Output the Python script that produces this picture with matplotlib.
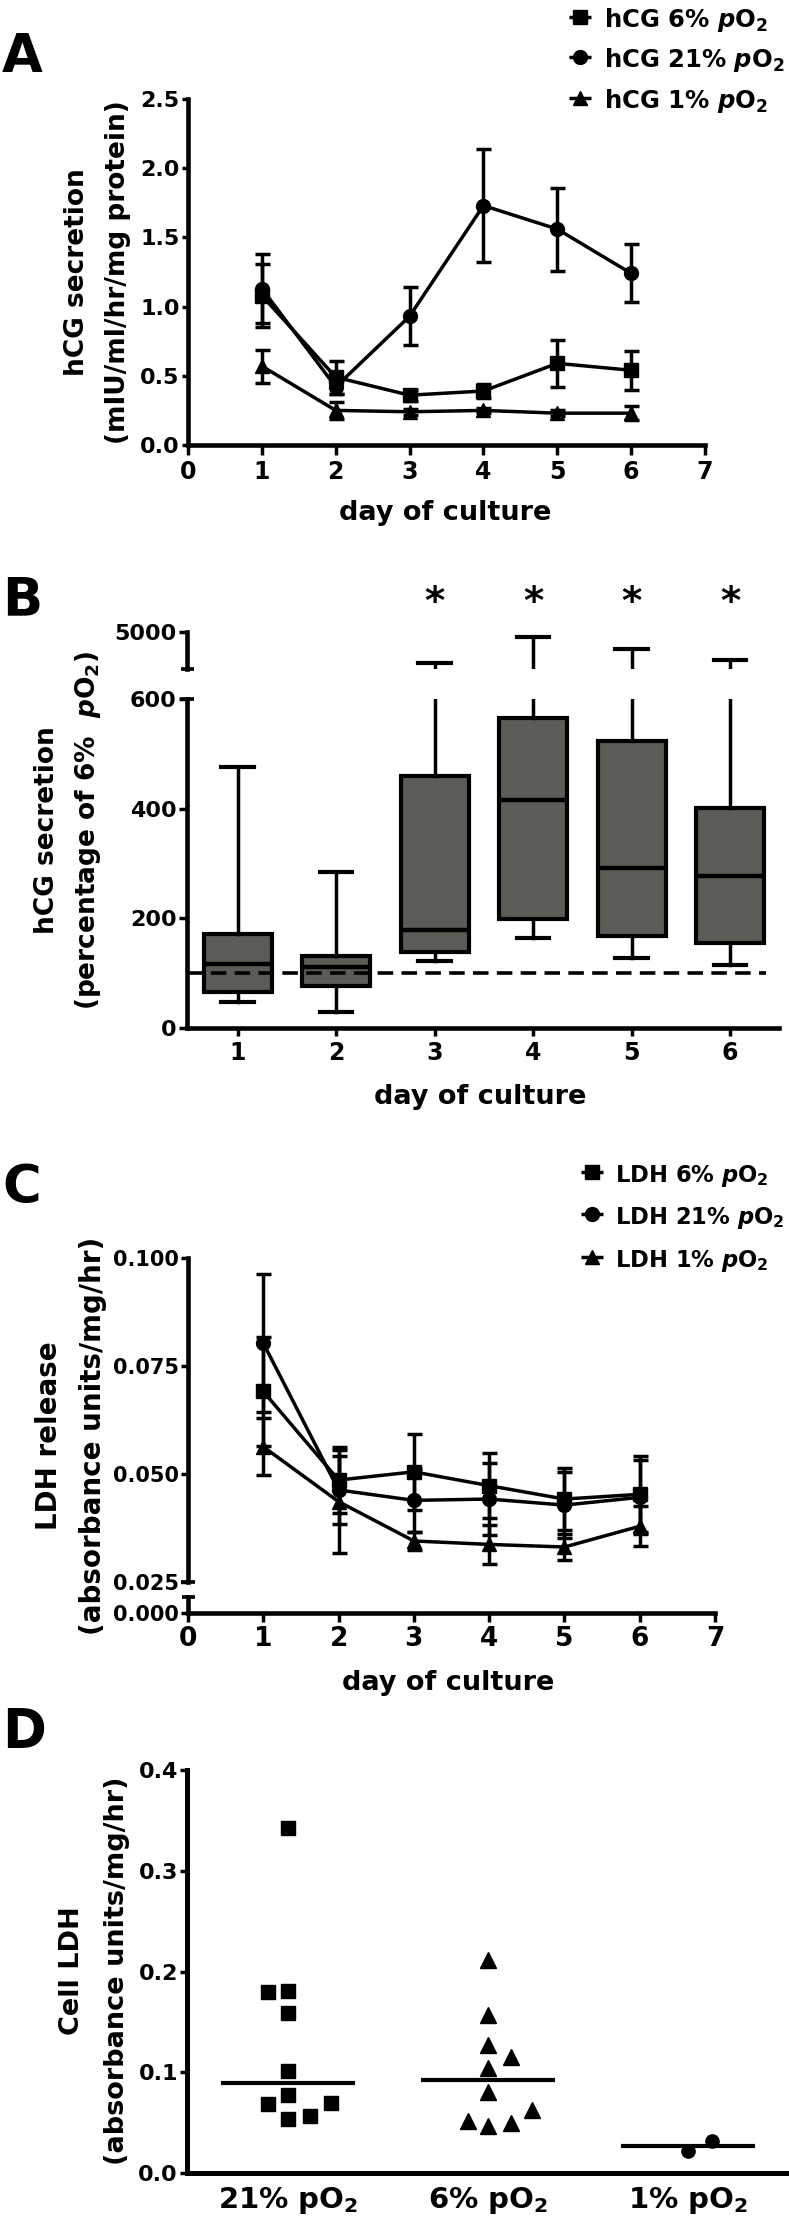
import numpy as np
import matplotlib
matplotlib.use('Agg')
import matplotlib.pyplot as plt
from matplotlib.lines import Line2D
from matplotlib.ticker import FormatStrFormatter
from matplotlib.transforms import blended_transform_factory

# ---------------- data ----------------
days = [1, 2, 3, 4, 5, 6]

# Panel A: hCG secretion (mean, SEM)
hcg6_mean = [1.08, 0.49, 0.36, 0.39, 0.59, 0.54]
hcg6_sem = [0.23, 0.12, 0.04, 0.05, 0.17, 0.14]
hcg21_mean = [1.13, 0.42, 0.93, 1.73, 1.56, 1.24]
hcg21_sem = [0.25, 0.05, 0.21, 0.41, 0.30, 0.21]
hcg1_mean = [0.57, 0.25, 0.24, 0.25, 0.23, 0.23]
hcg1_sem = [0.12, 0.06, 0.02, 0.02, 0.02, 0.05]

# Panel B: box plot stats (percentage of 6% pO2)
box_whislo = [47, 29, 122, 165, 127, 115]
box_q1 = [66, 77, 139, 199, 168, 155]
box_med = [117, 112, 179, 416, 291, 278]
box_q3 = [171, 131, 460, 565, 524, 401]
box_whishi = [476, 285, 1650, 4460, 3160, 1970]
box_sig = [False, False, True, True, True, True]

# Panel C: LDH release (mean, SEM)
ldh6_mean = [0.0691, 0.0486, 0.0505, 0.0473, 0.0442, 0.0453]
ldh6_sem = [0.0127, 0.0077, 0.0088, 0.0075, 0.0072, 0.0088]
ldh21_mean = [0.0803, 0.0463, 0.0439, 0.0442, 0.0428, 0.0446]
ldh21_sem = [0.0160, 0.0078, 0.0073, 0.0083, 0.0077, 0.0086]
ldh1_mean = [0.0563, 0.0436, 0.0345, 0.0337, 0.0331, 0.0379]
ldh1_sem = [0.0066, 0.0119, 0.0020, 0.0046, 0.0030, 0.0046]

# Panel D: cell LDH scatter
d_groups = [r'21% pO$_2$', r'6% pO$_2$', r'1% pO$_2$']
d21_vals = [0.342, 0.180, 0.181, 0.159, 0.101, 0.077, 0.068, 0.069, 0.054, 0.057]
d21_jit = [0.0, -0.10, 0.0, 0.0, 0.0, 0.0, -0.10, 0.215, 0.0, 0.11]
d6_vals = [0.211, 0.157, 0.127, 0.115, 0.104, 0.080, 0.063, 0.052, 0.047, 0.050]
d6_jit = [0.0, 0.0, 0.0, 0.115, 0.0, 0.0, 0.22, -0.10, 0.0, 0.115]
d1_vals = [0.0215, 0.032]
d1_jit = [0.0, 0.12]
d_medians = [0.0897, 0.0927, 0.027]

# ---------------- style ----------------
plt.rcParams['font.family'] = ['DejaVu Sans']
plt.rcParams['font.weight'] = 'bold'
plt.rcParams['mathtext.fontset'] = 'custom'
plt.rcParams['mathtext.rm'] = 'DejaVu Sans:bold'
plt.rcParams['mathtext.it'] = 'DejaVu Sans:italic:bold'
plt.rcParams['mathtext.bf'] = 'DejaVu Sans:bold'
plt.rcParams['mathtext.default'] = 'rm'

W, H = 789, 2220
fig = plt.figure(figsize=(W / 100, H / 100), dpi=100)
fig.patch.set_facecolor('white')

SPINE_LW = 3.3
LINE_LW = 2.5


def rect(x0, x1, y0, y1):
    return [x0 / W, 1 - y1 / H, (x1 - x0) / W, (y1 - y0) / H]


def ftext(x, y, s, **kw):
    return fig.text(x / W, 1 - y / H, s, **kw)


def fline(x0, y0, x1, y1, lw=SPINE_LW * 0.8):
    fig.add_artist(Line2D([x0 / W, x1 / W], [1 - y0 / H, 1 - y1 / H],
                          color='black', lw=lw, solid_capstyle='butt'))


def style(ax, left=True, bottom=True):
    ax.spines['top'].set_visible(False)
    ax.spines['right'].set_visible(False)
    ax.spines['left'].set_visible(left)
    ax.spines['bottom'].set_visible(bottom)
    for s in ['left', 'bottom']:
        ax.spines[s].set_linewidth(SPINE_LW)
        ax.spines[s].set_capstyle('projecting')
    ax.tick_params(width=2.5, colors='black')
    ax.patch.set_alpha(0)


def legend_entry(xm, yb, marker, ms, label, xt, fs):
    yc = yb - 10
    fline(xm - 11, yc, xm + 11, yc, lw=LINE_LW)
    fig.add_artist(Line2D([xm / W], [1 - yc / H], marker=marker, ms=ms,
                          color='black', ls='none'))
    ftext(xt, yb, label, ha='left', va='baseline', fontsize=fs)


# ---------------- Panel A ----------------
axA = fig.add_axes(rect(188, 705, 99, 445))
style(axA)
for mean, sem, mk, ms in [(hcg6_mean, hcg6_sem, 's', 10),
                          (hcg21_mean, hcg21_sem, 'o', 10),
                          (hcg1_mean, hcg1_sem, '^', 10.5)]:
    axA.errorbar(days, mean, yerr=sem, fmt='-', marker=mk, ms=ms, color='black',
                 lw=LINE_LW, elinewidth=LINE_LW, capsize=5.4, capthick=LINE_LW,
                 clip_on=False)
axA.set_xlim(0, 7)
axA.set_ylim(0, 2.5)
axA.set_xticks(range(0, 8))
axA.set_yticks([0, 0.5, 1.0, 1.5, 2.0, 2.5])
axA.yaxis.set_major_formatter(FormatStrFormatter('%.1f'))
axA.tick_params(axis='x', length=7, pad=4, labelsize=17)
axA.tick_params(axis='y', length=4.5, pad=1.5, labelsize=16)

ftext(2, 72, 'A', fontsize=38, ha='left', va='baseline')
ftext(77, 272, 'hCG secretion', rotation=90, ha='center', va='center', fontsize=19)
ftext(118, 272, '(mIU/ml/hr/mg protein)', rotation=90, ha='center', va='center', fontsize=19)
ftext(445, 513, 'day of culture', ha='center', va='center', fontsize=19.5)

legend_entry(580, 27, 's', 10, r'hCG 6% $\mathit{p}$O$_2$', 604, 17.5)
legend_entry(580, 67, 'o', 10, r'hCG 21% $\mathit{p}$O$_2$', 604, 17.5)
legend_entry(580, 108, '^', 10.5, r'hCG 1% $\mathit{p}$O$_2$', 604, 17.5)

# ---------------- Panel B ----------------
stats = []
for i in range(len(days)):
    stats.append(dict(whislo=box_whislo[i], q1=box_q1[i], med=box_med[i],
                      q3=box_q3[i], whishi=box_whishi[i], fliers=[]))

bxp_kw = dict(positions=days, widths=0.69, capwidths=0.33, patch_artist=True,
              showfliers=False,
              boxprops=dict(facecolor='#5b5c56', edgecolor='black', linewidth=3),
              medianprops=dict(color='black', linewidth=3.2),
              whiskerprops=dict(color='black', linewidth=2.5),
              capprops=dict(color='black', linewidth=3))

axBu = fig.add_axes(rect(187, 779, 632, 669))
style(axBu, left=True, bottom=False)
axBu.bxp(stats, manage_ticks=False, **bxp_kw)
axBu.set_xlim(0.485, 6.495)
axBu.set_ylim(1000, 5000)
axBu.set_yticks([5000])
axBu.tick_params(axis='y', length=5.5, pad=2, labelsize=16)
axBu.tick_params(axis='x', bottom=False, labelbottom=False)

axBl = fig.add_axes(rect(187, 779, 699, 1028))
style(axBl)
axBl.bxp(stats, manage_ticks=False, **bxp_kw)
axBl.set_xlim(0.485, 6.495)
axBl.set_ylim(0, 600)
axBl.set_yticks([0, 200, 400, 600])
axBl.set_xticks(days)
axBl.set_xticklabels([str(d) for d in days])
axBl.tick_params(axis='y', length=5.5, pad=2, labelsize=16)
axBl.tick_params(axis='x', length=5.5, pad=4, labelsize=17)
axBl.axhline(100, xmin=0, xmax=0.978, color='black', lw=2.6,
             ls=(0, (4.3, 2.3)))

# broken-axis caps
fline(181, 669, 194, 669)
fline(180, 699, 194, 699)

btr = blended_transform_factory(axBl.transData, fig.transFigure)
for d, s in zip(days, box_sig):
    if s:
        axBl.text(d, 1 - 614 / H, '*', transform=btr, ha='center', va='baseline',
                  fontsize=28, clip_on=False)

ftext(2, 615, 'B', fontsize=38, ha='left', va='baseline')
ftext(47, 830, 'hCG secretion', rotation=90, ha='center', va='center', fontsize=19)
ftext(88, 830, r'(percentage of 6%  $\mathit{p}$O$_2$)', rotation=90,
      ha='center', va='center', fontsize=19)
ftext(480, 1097, 'day of culture', ha='center', va='center', fontsize=19.5)

# ---------------- Panel C ----------------
axCu = fig.add_axes(rect(188, 715, 1258, 1582))
style(axCu, left=True, bottom=False)
for mean, sem, mk, ms in [(ldh6_mean, ldh6_sem, 's', 10),
                          (ldh21_mean, ldh21_sem, 'o', 10),
                          (ldh1_mean, ldh1_sem, '^', 10.5)]:
    axCu.errorbar(days, mean, yerr=sem, fmt='-', marker=mk, ms=ms, color='black',
                  lw=LINE_LW, elinewidth=LINE_LW, capsize=5.4, capthick=LINE_LW,
                  clip_on=False)
axCu.set_xlim(0, 7)
axCu.set_ylim(0.025, 0.100)
axCu.set_yticks([0.025, 0.050, 0.075, 0.100])
axCu.yaxis.set_major_formatter(FormatStrFormatter('%.3f'))
axCu.tick_params(axis='y', length=5, pad=1.5, labelsize=15)
axCu.tick_params(axis='x', bottom=False, labelbottom=False)

axCl = fig.add_axes(rect(188, 715, 1597, 1613))
style(axCl)
axCl.set_xlim(0, 7)
axCl.set_ylim(0, 0.0037)
axCl.set_yticks([0])
axCl.yaxis.set_major_formatter(FormatStrFormatter('%.3f'))
axCl.set_xticks(range(0, 8))
axCl.tick_params(axis='y', length=5, pad=1.5, labelsize=15)
axCl.tick_params(axis='x', length=6.5, pad=3, labelsize=19)

fline(181, 1582, 195, 1582)
fline(182, 1597, 195, 1597)

ftext(2, 1203, 'C', fontsize=38, ha='left', va='baseline')
ftext(49, 1436, 'LDH release', rotation=90, ha='center', va='center', fontsize=20)
ftext(93, 1436, '(absorbance units/mg/hr)', rotation=90, ha='center', va='center', fontsize=20)
ftext(448, 1683, 'day of culture', ha='center', va='center', fontsize=19.5)

legend_entry(592, 1182, 's', 10, r'LDH 6% $\mathit{p}$O$_2$', 615, 16.3)
legend_entry(592, 1224, 'o', 10, r'LDH 21% $\mathit{p}$O$_2$', 615, 16.3)
legend_entry(592, 1267, '^', 10.5, r'LDH 1% $\mathit{p}$O$_2$', 615, 16.3)

# ---------------- Panel D ----------------
axD = fig.add_axes(rect(187, 789, 1770, 2173))
style(axD)
axD.spines['left'].set_linewidth(3.6)
axD.spines['bottom'].set_linewidth(3.6)
for gi, (vals, jit, mk, ms) in enumerate([(d21_vals, d21_jit, 's', 10.5),
                                          (d6_vals, d6_jit, '^', 11),
                                          (d1_vals, d1_jit, 'o', 9.5)]):
    axD.plot(gi + np.array(jit), vals, marker=mk, ms=ms, color='black',
             ls='none', clip_on=False)
    axD.hlines(d_medians[gi], gi - 0.335, gi + 0.335, color='black', lw=3)
axD.set_xlim(-0.505, 2.505)
axD.set_ylim(0, 0.4)
axD.set_yticks([0, 0.1, 0.2, 0.3, 0.4])
axD.yaxis.set_major_formatter(FormatStrFormatter('%.1f'))
axD.set_xticks(range(len(d_groups)))
axD.set_xticklabels(d_groups)
axD.tick_params(axis='y', length=5, pad=1.5, labelsize=16)
axD.tick_params(axis='x', length=0, pad=9, labelsize=21)

ftext(2, 1747, 'D', fontsize=38, ha='left', va='baseline')
ftext(72, 1971, 'Cell LDH', rotation=90, ha='center', va='center', fontsize=19.5)
ftext(117, 1971, '(absorbance units/mg/hr)', rotation=90, ha='center', va='center', fontsize=19.5)

fig.savefig('out.png', dpi=100, facecolor='white')
